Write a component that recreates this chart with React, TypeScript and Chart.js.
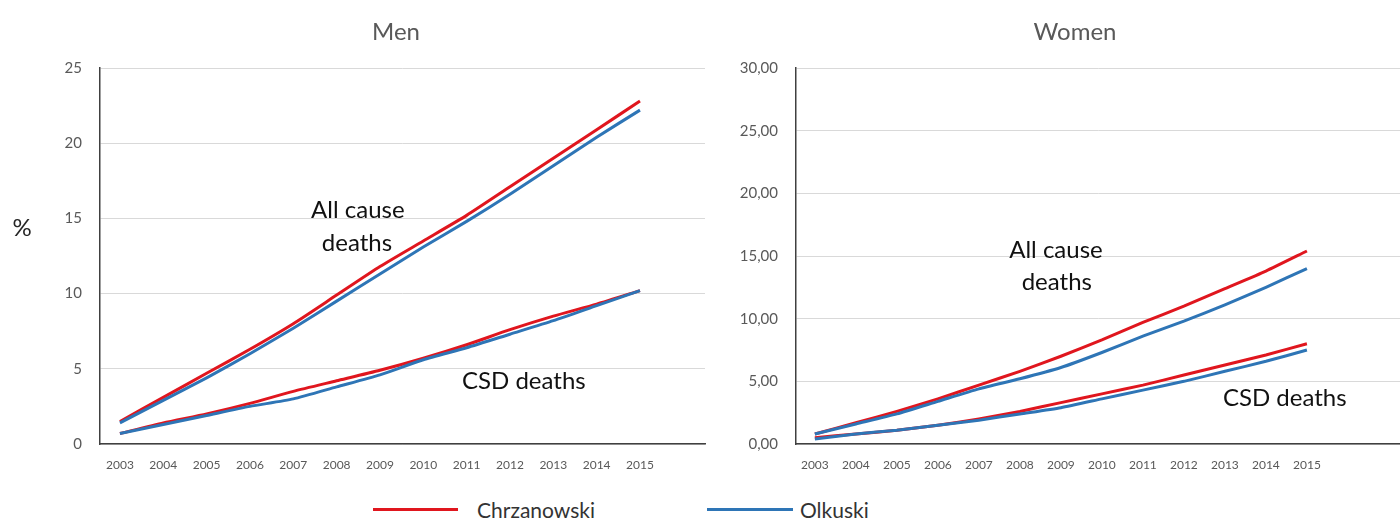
import React, { useEffect, useRef } from "react";
import { Chart, registerables } from "chart.js";

Chart.register(...registerables);

// ---------- data ----------
const years = [2003, 2004, 2005, 2006, 2007, 2008, 2009, 2010, 2011, 2012, 2013, 2014, 2015];
const seriesNames = ["Chrzanowski", "Olkuski"];

const menAllChrz = [1.5, 3.1, 4.7, 6.3, 8.0, 9.9, 11.8, 13.5, 15.2, 17.1, 19.0, 20.9, 22.8];
const menAllOlk = [1.4, 2.9, 4.4, 6.0, 7.7, 9.5, 11.3, 13.1, 14.8, 16.6, 18.5, 20.4, 22.2];
const menCsdChrz = [0.7, 1.4, 2.0, 2.7, 3.5, 4.2, 4.9, 5.7, 6.6, 7.6, 8.5, 9.3, 10.2];
const menCsdOlk = [0.7, 1.3, 1.9, 2.5, 3.0, 3.8, 4.6, 5.6, 6.4, 7.3, 8.2, 9.2, 10.2];

const womenAllChrz = [0.8, 1.7, 2.6, 3.6, 4.7, 5.8, 7.0, 8.3, 9.7, 11.0, 12.4, 13.8, 15.4];
const womenAllOlk = [0.8, 1.6, 2.4, 3.4, 4.4, 5.2, 6.1, 7.3, 8.6, 9.8, 11.1, 12.5, 14.0];
const womenCsdChrz = [0.5, 0.8, 1.1, 1.5, 2.0, 2.6, 3.3, 4.0, 4.7, 5.5, 6.3, 7.1, 8.0];
const womenCsdOlk = [0.4, 0.8, 1.1, 1.5, 1.9, 2.4, 2.9, 3.6, 4.3, 5.0, 5.8, 6.6, 7.5];

const menYTicks = [0, 5, 10, 15, 20, 25];
const womenYTicks = [0, 5, 10, 15, 20, 25, 30];

const RED = "#e0161e";
const BLUE = "#2e75b6";
const FONT = "Lato, 'Open Sans', sans-serif";

type Note = { text: string; x: number; y: number };

type PanelProps = {
  title: string;
  titleX: number;
  left: number;
  width: number;
  height: number;
  yAxisWidth: number;
  padRight: number;
  xMin: number;
  xMax: number;
  yTicks: number[];
  yFormat: (v: number) => string;
  allChrz: number[];
  allOlk: number[];
  csdChrz: number[];
  csdOlk: number[];
  notes: Note[];
  percent: boolean;
};

function Panel(p: PanelProps) {
  const ref = useRef<HTMLCanvasElement | null>(null);
  useEffect(() => {
    if (!ref.current) return;
    const mk = (vals: number[], color: string, order: number) => ({
      label: color === RED ? seriesNames[0] : seriesNames[1],
      data: vals.map((v, i) => ({ x: years[i], y: v })),
      borderColor: color,
      backgroundColor: color,
      borderWidth: 3,
      pointRadius: 0,
      tension: 0.2,
      order,
    });
    const textPlugin = {
      id: "panelText",
      afterDraw(chart: any) {
        const { ctx, scales } = chart;
        const x = scales.x;
        const y = scales.y;
        ctx.save();
        ctx.textAlign = "center";
        ctx.textBaseline = "middle";
        ctx.fillStyle = "#595959";
        ctx.font = `24px ${FONT}`;
        ctx.fillText(p.title, p.titleX, 32);
        ctx.fillStyle = "#111111";
        ctx.font = `24px ${FONT}`;
        for (const n of p.notes) {
          ctx.fillText(n.text, x.getPixelForValue(n.x), y.getPixelForValue(n.y));
        }
        if (p.percent) {
          ctx.fillStyle = "#262626";
          ctx.fillText("%", 22, 228);
        }
        ctx.restore();
      },
    };
    const chart = new Chart(ref.current, {
      type: "line",
      data: {
        datasets: [
          mk(p.allChrz, RED, 1),
          mk(p.allOlk, BLUE, 0),
          mk(p.csdChrz, RED, 1),
          mk(p.csdOlk, BLUE, 0),
        ] as any,
      },
      options: {
        responsive: false,
        animation: false,
        devicePixelRatio: 1,
        layout: { padding: { left: 0, right: p.padRight, top: 68, bottom: p.height - 444 - 40 } },
        plugins: {
          legend: { display: false },
          tooltip: { enabled: false },
          title: { display: false },
        },
        scales: {
          x: {
            type: "linear",
            min: p.xMin,
            max: p.xMax,
            afterBuildTicks: (s: any) => {
              s.ticks = years.map((v) => ({ value: v }));
            },
            afterFit: (s: any) => {
              s.height = 40;
            },
            grid: { display: true, drawOnChartArea: false, drawTicks: false },
            border: { display: true, color: "#404040", width: 1.5 },
            ticks: {
              autoSkip: false,
              maxRotation: 0,
              padding: 14,
              color: "#595959",
              font: { family: FONT, size: 12 },
              callback: (v: any) => String(v),
            },
          },
          y: {
            type: "linear",
            min: p.yTicks[0],
            max: p.yTicks[p.yTicks.length - 1],
            afterBuildTicks: (s: any) => {
              s.ticks = p.yTicks.map((v) => ({ value: v }));
            },
            afterFit: (s: any) => {
              s.width = p.yAxisWidth;
            },
            grid: { color: "#d9d9d9", lineWidth: 1, drawTicks: false },
            border: { display: true, color: "#404040", width: 1.5 },
            ticks: {
              padding: 18,
              color: "#595959",
              font: { family: FONT, size: 15 },
              callback: (v: any) => p.yFormat(Number(v)),
            },
          },
        },
      },
      plugins: [textPlugin],
    });
    return () => chart.destroy();
  }, []);
  return (
    <canvas
      ref={ref}
      width={p.width}
      height={p.height}
      style={{ position: "absolute", left: p.left, top: 0, width: p.width, height: p.height }}
    />
  );
}

export default function App() {
  const legendText: React.CSSProperties = {
    position: "absolute",
    top: 496,
    fontFamily: FONT,
    fontSize: 21,
    lineHeight: "28px",
    color: "#333333",
    whiteSpace: "nowrap",
  };
  return (
    <div
      style={{
        position: "absolute",
        left: 0,
        top: 0,
        width: 1400,
        height: 527,
        background: "#ffffff",
        overflow: "hidden",
      }}
    >
      <Panel
        title="Men"
        titleX={396}
        left={0}
        width={710}
        height={490}
        yAxisWidth={100}
        padRight={5}
        xMin={2002.54}
        xMax={2016.5}
        yTicks={menYTicks}
        yFormat={(v) => String(v)}
        allChrz={menAllChrz}
        allOlk={menAllOlk}
        csdChrz={menCsdChrz}
        csdOlk={menCsdOlk}
        notes={[
          { text: "All cause", x: 2008.49, y: 15.56 },
          { text: "deaths", x: 2008.47, y: 13.36 },
          { text: "CSD deaths", x: 2012.32, y: 4.19 },
        ]}
        percent={true}
      />
      <Panel
        title="Women"
        titleX={375}
        left={700}
        width={700}
        height={490}
        yAxisWidth={96}
        padRight={0}
        xMin={2002.54}
        xMax={2017.27}
        yTicks={womenYTicks}
        yFormat={(v) => v.toFixed(2).replace(".", ",")}
        allChrz={womenAllChrz}
        allOlk={womenAllOlk}
        csdChrz={womenCsdChrz}
        csdOlk={womenCsdOlk}
        notes={[
          { text: "All cause", x: 2008.88, y: 15.48 },
          { text: "deaths", x: 2008.9, y: 12.93 },
          { text: "CSD deaths", x: 2014.46, y: 3.67 },
        ]}
        percent={false}
      />
      <div style={{ position: "absolute", left: 373, top: 508, width: 85, height: 3, background: RED }} />
      <div style={{ ...legendText, left: 477 }}>{seriesNames[0]}</div>
      <div style={{ position: "absolute", left: 707, top: 508, width: 86, height: 3, background: BLUE }} />
      <div style={{ ...legendText, left: 800 }}>{seriesNames[1]}</div>
    </div>
  );
}
